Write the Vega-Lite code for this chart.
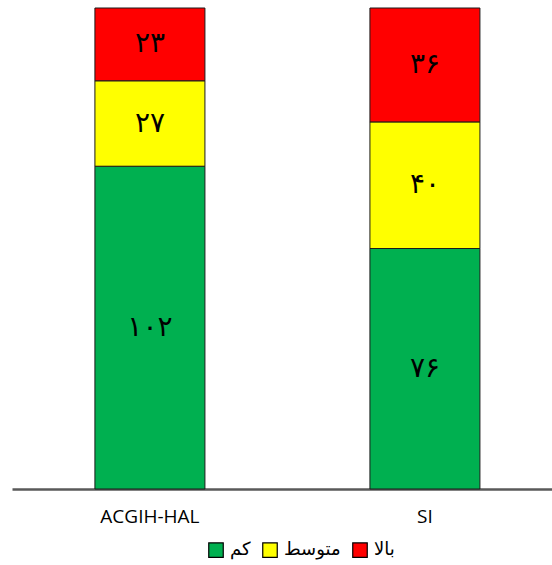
{
  "$schema": "https://vega.github.io/schema/vega-lite/v6.json",
  "autosize": {"type": "none"},
  "width": 540,
  "height": 481,
  "padding": {"left": 12, "top": 8, "right": 0, "bottom": 76},
  "background": "white",
  "config": {"view": {"stroke": null}},
  "data": {
    "values": [
      {"group": "ACGIH-HAL", "level": "کم", "rank": 1, "value": 102, "label": "۱۰۲"},
      {"group": "ACGIH-HAL", "level": "متوسط", "rank": 2, "value": 27, "label": "۲۷"},
      {"group": "ACGIH-HAL", "level": "بالا", "rank": 3, "value": 23, "label": "۲۳"},
      {"group": "SI", "level": "کم", "rank": 1, "value": 76, "label": "۷۶"},
      {"group": "SI", "level": "متوسط", "rank": 2, "value": 40, "label": "۴۰"},
      {"group": "SI", "level": "بالا", "rank": 3, "value": 36, "label": "۳۶"}
    ]
  },
  "encoding": {
    "x": {
      "field": "group",
      "type": "nominal",
      "sort": ["ACGIH-HAL", "SI"],
      "scale": {"paddingInner": 0.6, "paddingOuter": 0.2818, "align": 0.535},
      "axis": {
        "title": null,
        "labelAngle": 0,
        "ticks": false,
        "labelPadding": 18,
        "labelFont": "Open Sans",
        "labelFontSize": 19,
        "labelColor": "#000000",
        "domainColor": "#595959",
        "domainWidth": 2.5
      }
    },
    "y": {
      "field": "value",
      "type": "quantitative",
      "stack": "zero",
      "scale": {"domain": [0, 152], "nice": false},
      "axis": null
    },
    "order": {"field": "rank", "type": "quantitative"}
  },
  "layer": [
    {
      "mark": {"type": "bar", "stroke": "#1a1a1a", "strokeWidth": 1},
      "encoding": {
        "color": {
          "field": "level",
          "type": "nominal",
          "scale": {"domain": ["کم", "متوسط", "بالا"], "range": ["#00B050", "#FFFF00", "#FF0000"]},
          "legend": {
            "title": null,
            "orient": "none",
            "direction": "horizontal",
            "legendX": 195,
            "legendY": 533,
            "symbolType": "square",
            "symbolSize": 210,
            "symbolStrokeColor": "#000000",
            "symbolStrokeWidth": 1.2,
            "symbolOpacity": 1,
            "labelFont": "DejaVu Sans",
            "labelFontSize": 18,
            "labelColor": "#000000",
            "columnPadding": 9,
            "labelOffset": 5
          }
        }
      }
    },
    {
      "mark": {"type": "text", "font": "DejaVu Sans", "fontSize": 28, "color": "#000000", "baseline": "middle", "align": "center"},
      "encoding": {
        "y": {"field": "value", "type": "quantitative", "stack": "zero", "bandPosition": 0.5},
        "text": {"field": "label", "type": "nominal"}
      }
    }
  ]
}
